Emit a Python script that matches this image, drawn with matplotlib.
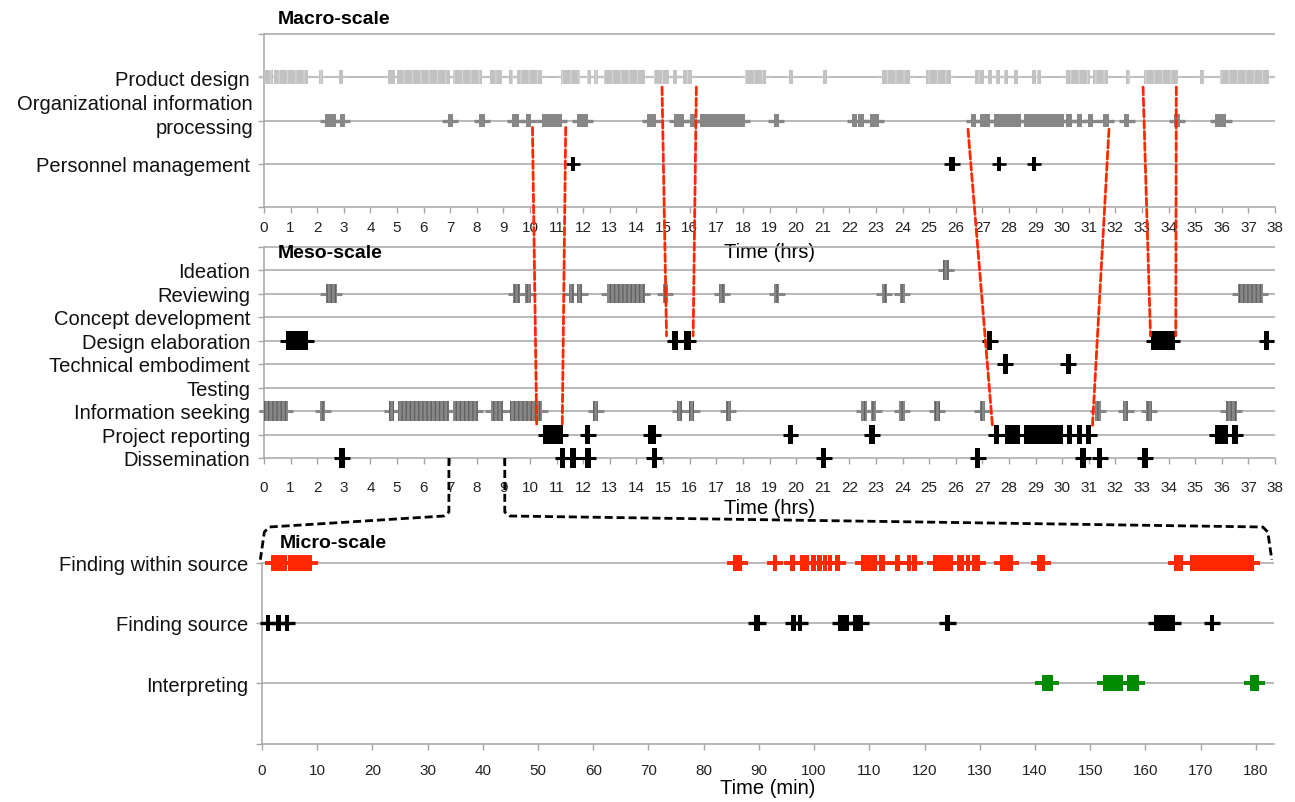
import numpy as np
import matplotlib
matplotlib.use("Agg")
import matplotlib.pyplot as plt
from matplotlib.patches import ConnectionPatch
from matplotlib.lines import Line2D
from matplotlib.transforms import IdentityTransform, blended_transform_factory

plt.rcParams['font.family'] = ['Liberation Sans', 'DejaVu Sans']
plt.rcParams['hatch.linewidth'] = 0.9

W, H = 1295, 803

# ---------------- data: (start, end) of each activity ----------------
# macro-scale, hours
macro_rows = ["Product design", "Organizational information\nprocessing", "Personnel management"]
product_design = [(0.0, 0.34), (0.38, 1.66), (2.16, 2.16), (2.91, 2.91), (4.67, 4.92), (5.0, 7.0),
                  (7.1, 8.19), (8.5, 8.94), (9.3, 9.3), (9.5, 10.45), (11.17, 11.87), (12.2, 12.2),
                  (12.47, 12.47), (12.78, 14.31), (14.66, 15.23), (15.44, 15.44), (15.73, 16.07),
                  (18.07, 18.85), (19.82, 19.82), (21.07, 21.07), (23.22, 24.29), (24.88, 25.82),
                  (26.72, 27.07), (27.28, 27.28), (27.6, 27.6), (27.9, 27.9), (28.25, 28.25),
                  (28.94, 28.94), (29.13, 29.13), (30.13, 31.03), (31.17, 31.72), (32.49, 32.49),
                  (33.08, 34.36), (35.24, 35.24), (35.93, 37.76)]
org_info = [(2.29, 2.7), (2.95, 2.95), (7.0, 7.0), (8.19, 8.19), (9.32, 9.57), (9.95, 9.95),
            (10.45, 11.2), (11.87, 11.87), (12.06, 12.06), (14.4, 14.72), (15.41, 15.79),
            (16.1, 16.1), (16.4, 18.07), (19.26, 19.26), (22.2, 22.2), (22.44, 22.44),
            (22.76, 23.11), (26.68, 26.68), (26.93, 27.28), (27.44, 28.46), (28.57, 30.06),
            (30.26, 30.26), (30.65, 30.65), (31.07, 31.07), (31.65, 31.65), (32.42, 32.42),
            (34.32, 34.32), (35.75, 36.17)]
personnel = [(11.62, 11.62), (25.75, 25.96), (27.63, 27.63), (28.94, 28.94)]

# meso-scale, hours
meso_rows = ["Ideation", "Reviewing", "Concept development", "Design elaboration",
             "Technical embodiment", "Testing", "Information seeking", "Project reporting",
             "Dissemination"]
ideation = [(25.63, 25.63)]
reviewing = [(2.32, 2.74), (9.36, 9.61), (9.92, 9.92), (11.56, 11.56), (11.87, 11.87),
             (12.88, 14.32), (15.08, 15.08), (17.21, 17.21), (19.27, 19.27), (23.31, 23.31),
             (23.99, 23.99), (36.6, 37.54)]
concept_dev = []
design_elab = [(0.82, 1.67), (15.35, 15.55), (15.8, 16.05), (27.28, 27.28), (33.34, 34.24),
               (37.68, 37.68)]
technical = [(27.86, 27.86), (30.23, 30.23)]
testing = []
info_seeking = [(0.0, 0.9), (2.2, 2.2), (4.71, 4.9), (5.03, 6.97), (7.12, 8.04), (8.52, 8.98),
                (9.36, 9.36), (9.48, 10.46), (12.47, 12.47), (15.62, 15.62), (16.08, 16.08),
                (17.45, 17.45), (22.46, 22.64), (22.92, 22.92), (23.89, 24.08), (25.29, 25.29),
                (27.0, 27.0), (31.25, 31.45), (32.39, 32.39), (33.27, 33.27), (36.15, 36.57)]
reporting = [(10.49, 11.22), (12.16, 12.16), (14.45, 14.72), (19.79, 19.79), (22.85, 22.85),
             (27.52, 27.52), (27.86, 28.42), (28.56, 30.02), (30.27, 30.27), (30.65, 30.65),
             (31.0, 31.0), (35.73, 36.22), (36.5, 36.5)]
dissemination = [(2.93, 2.93), (11.22, 11.22), (11.62, 11.62), (12.1, 12.25), (14.67, 14.67),
                 (21.04, 21.04), (26.72, 26.92), (30.68, 30.9), (31.41, 31.41), (33.11, 33.11)]

# micro-scale, minutes
micro_rows = ["Finding within source", "Finding source", "Interpreting"]
finding_within = [(1.6, 4.5), (4.65, 9.0), (85.4, 86.9), (92.9, 92.9), (95.8, 96.4), (97.5, 99.0),
                  (99.6, 100.2), (100.8, 101.2), (101.8, 102.2), (102.7, 103.0), (103.8, 104.7),
                  (108.5, 111.4), (111.7, 112.9), (114.7, 115.5), (116.9, 117.4), (117.9, 118.5),
                  (121.6, 125.2), (125.8, 127.1), (127.7, 128.0), (128.9, 129.2), (129.6, 129.8),
                  (133.7, 136.1), (140.3, 141.8), (165.2, 166.9), (168.0, 179.6)]
finding_source = [(1.1, 1.1), (3.0, 3.0), (4.5, 4.5), (89.2, 90.2), (96.1, 96.5), (97.2, 97.6),
                  (104.6, 105.0), (105.2, 106.3), (107.0, 108.8), (123.7, 124.6), (161.5, 165.4),
                  (171.7, 172.5)]
interpreting = [(141.2, 143.2), (152.4, 155.9), (156.6, 158.8), (179.0, 180.5)]

# red links macro -> meso: (macro hour, macro y, meso hour, meso y)
links = [(10.09, 1.84, 10.25, 1.37), (11.34, 1.84, 11.21, 1.37),
         (14.96, 2.77, 15.13, 5.2), (16.25, 2.77, 16.13, 5.2),
         (26.46, 1.80, 27.38, 1.37), (31.76, 1.80, 31.14, 1.37),
         (33.04, 2.77, 33.32, 5.2), (34.29, 2.77, 34.27, 5.2)]

GRID = '#A6A6A6'
LGRAY = '#C2C2C2'
DGRAY = '#878787'
RED = '#FF2800'
GREEN = '#008A00'


def px_rect(left, top, right, bottom):
    return [left / W, 1 - bottom / H, (right - left) / W, (bottom - top) / H]


def draw_events(ax, events, y, color, bar_h, min_w, arm, arm_lw, hatch=None, hatch_color=None):
    if not events:
        return
    starts = np.array([e[0] for e in events])
    ends = np.array([e[1] for e in events])
    mids = (starts + ends) / 2
    widths = np.maximum(ends - starts, min_w)
    lefts = mids - widths / 2
    ax.hlines(np.full(len(events), y), lefts - arm, lefts + widths + arm, colors=color,
              lw=arm_lw, zorder=3, clip_on=False)
    ax.broken_barh(list(zip(lefts, widths)), (y - bar_h / 2, bar_h), facecolors=color,
                   edgecolors=hatch_color if hatch_color else color, linewidth=0,
                   hatch=hatch, zorder=4, clip_on=False)


def style_axes(ax, xmax, ymax, xticks, rows, row_y, nlines, tick_pad):
    ax.set_xlim(0, xmax)
    ax.set_ylim(0, ymax)
    ax.patch.set_alpha(0)
    for s in ['top', 'right']:
        ax.spines[s].set_visible(False)
    for s in ['left', 'bottom']:
        ax.spines[s].set_color(GRID)
        ax.spines[s].set_linewidth(1.1)
    ax.hlines(list(range(1, nlines + 1)), 0, xmax, colors=GRID, lw=1.1, zorder=1, clip_on=False)
    ax.set_xticks(xticks)
    ax.set_xticklabels([str(t) for t in xticks])
    yt = list(range(0, nlines + 1))
    ax.set_yticks(yt)
    labels = [''] * len(yt)
    for name, yy in zip(rows, row_y):
        labels[yy] = name
    ax.set_yticklabels(labels, fontsize=14.5, color='#111111')
    ax.tick_params(axis='x', direction='out', length=4, width=1, color=GRID,
                   labelsize=11, pad=tick_pad, labelcolor='#222222')
    ax.tick_params(axis='y', direction='out', length=4, width=1, color=GRID, pad=6)


fig = plt.figure(figsize=(W / 100, H / 100), dpi=100)

# ---------- macro ----------
ax1 = fig.add_axes(px_rect(264, 34.7, 1275, 208.3))
# the two-line label is placed by hand a bit above its row, as in the source
style_axes(ax1, 38, 4, list(range(0, 39)), [macro_rows[0], macro_rows[2]], [3, 1], 4, 5)
ax1.text(-11 / 1011, 2.11, macro_rows[1], transform=blended_transform_factory(ax1.transAxes, ax1.transData),
         ha='right', va='center', multialignment='right', fontsize=14.5, color='#111111',
         linespacing=1.3)
draw_events(ax1, product_design, 3, LGRAY, 0.32, 0.15, 0.19, 1.6, hatch='||', hatch_color='#D6D6D6')
draw_events(ax1, org_info, 2, DGRAY, 0.32, 0.2, 0.2, 2.4)
draw_events(ax1, personnel, 1, 'black', 0.32, 0.15, 0.19, 1.9)
ax1.set_xlabel("Time (hrs)", fontsize=14.5)
ax1.xaxis.label.set_va('center')
ax1.xaxis.set_label_coords(0.5, -(252 - 208.3) / 173.6)

# ---------- meso ----------
ax2 = fig.add_axes(px_rect(264, 247.5, 1275, 459))
meso_y = [8 - i for i in range(9)]
style_axes(ax2, 38, 9, list(range(0, 39)), meso_rows, meso_y, 9, 12)
meso_data = [ideation, reviewing, concept_dev, design_elab, technical, testing,
             info_seeking, reporting, dissemination]
meso_col = [DGRAY, DGRAY, 'black', 'black', 'black', DGRAY, DGRAY, 'black', 'black']
for ev, yy, col in zip(meso_data, meso_y, meso_col):
    if col == DGRAY:
        draw_events(ax2, ev, yy, col, 0.85, 0.2, 0.2, 2.2, hatch='||||', hatch_color='#5F5F5F')
    else:
        draw_events(ax2, ev, yy, col, 0.85, 0.2, 0.2, 2.2)
ax2.set_xlabel("Time (hrs)", fontsize=14.5)
ax2.xaxis.label.set_va('center')
ax2.xaxis.set_label_coords(0.5, -(509 - 459) / 211.5)

# ---------- micro ----------
ax3 = fig.add_axes(px_rect(262, 545.6, 1274, 744.6))
style_axes(ax3, 183.3, 3.3, list(range(0, 181, 10)), micro_rows, [3, 2, 1], 3, 10)
ax3.spines['left'].set_bounds(0, 3)
ax3.set_yticks([0, 1, 2, 3])
ax3.set_yticklabels(['', 'Interpreting', 'Finding source', 'Finding within source'], fontsize=14.5,
                    color='#111111')
draw_events(ax3, finding_within, 3, RED, 0.26, 0.8, 1.1, 2.8)
draw_events(ax3, finding_source, 2, 'black', 0.26, 0.8, 1.1, 2.4)
draw_events(ax3, interpreting, 1, GREEN, 0.26, 0.8, 1.1, 2.8)
ax3.set_xlabel("Time (min)", fontsize=14.5)
ax3.xaxis.label.set_va('center')
ax3.xaxis.set_label_coords(0.5, -(789 - 744.6) / 199.0)

# titles
fig.text(278 / W, 1 - 20 / H, "Macro-scale", fontsize=14, weight='bold', va='center')
fig.text(278 / W, 1 - 254 / H, "Meso-scale", fontsize=14, weight='bold', va='center')
fig.text(280 / W, 1 - 544 / H, "Micro-scale", fontsize=14, weight='bold', va='center')

# red dashed links between macro and meso
for xa, ya, xb, yb in links:
    con = ConnectionPatch(xyA=(xa, ya), coordsA='data', axesA=ax1,
                          xyB=(xb, yb), coordsB='data', axesB=ax2,
                          color=RED, lw=2.0, linestyle=(0, (2.8, 1.2)), zorder=10)
    fig.add_artist(con)

# black dashed bracket meso -> micro
xl, ytop = ax2.transData.transform((6.95, 0))
xr, _ = ax2.transData.transform((9.05, 0))
xm0, ybot = ax3.transData.transform((-0.3, 3.05))
xm1, _ = ax3.transData.transform((182.9, 3.05))
ya = H - 517
yb = H - 528
left = [(xl, ytop), (xl, ya + 4), (xl - 5, ya), (xm0 + 9, yb), (xm0 + 4, yb - 5), (xm0, ybot)]
right = [(xr, ytop), (xr, ya + 4), (xr + 5, ya), (xm1 - 9, yb), (xm1 - 4, yb - 5), (xm1, ybot)]
for pts in (left, right):
    xs, ys = zip(*pts)
    fig.add_artist(Line2D(xs, ys, transform=IdentityTransform(), color='black', lw=2.0,
                          linestyle=(0, (2.9, 1.4)), zorder=10))

fig.savefig("out.png", dpi=100)
